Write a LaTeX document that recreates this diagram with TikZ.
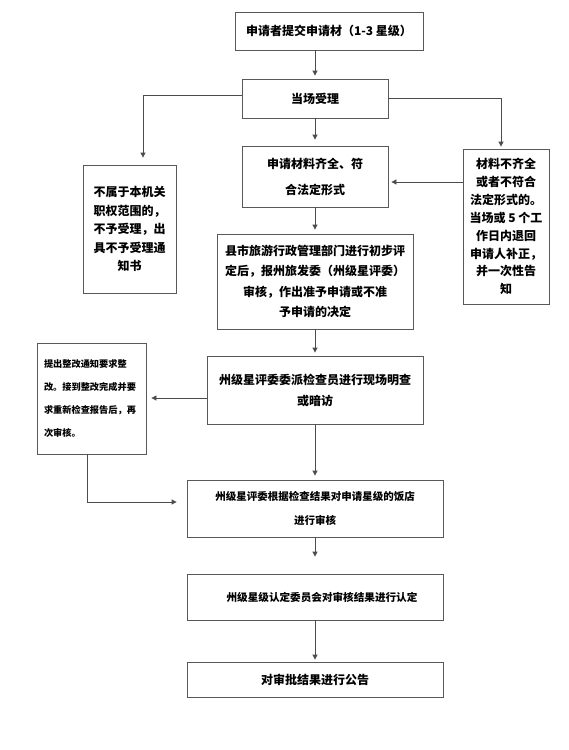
\documentclass[tikz,border=0pt]{standalone}
\usepackage{fontspec}
\setmainfont{Noto Sans CJK SC}
\usetikzlibrary{arrows.meta}
\begin{document}
\begin{tikzpicture}[x=1pt,y=-1pt,
  box/.style={draw=black!65, line width=0.8pt, inner sep=0pt, align=center, font=\bfseries\fontsize{12}{18}\selectfont},
  arr/.style={draw=black!70, line width=0.8pt, -{Triangle[length=5pt,width=5pt]}}]
\useasboundingbox[fill=white] (0,0) rectangle (568,750);
\node[box, minimum width=188pt, minimum height=38pt] (b1) at (329,31) {申请者提交申请材（1-3 星级）};
\node[box, minimum width=146pt, minimum height=39pt] (b2) at (315,98.5) {当场受理};
\node[box, minimum width=146pt, minimum height=61pt, font=\bfseries\fontsize{12}{26}\selectfont] (b3) at (315,176.5) {申请材料齐全、符\\合法定形式};
\node[box, minimum width=196pt, minimum height=95pt, font=\bfseries\fontsize{12}{20.5}\selectfont] (b4) at (315,281.5) {县市旅游行政管理部门进行初步评\\定后，报州旅发委（州级星评委）\\审核，作出准予申请或不准\\予申请的决定};
\node[box, minimum width=216pt, minimum height=68pt, font=\bfseries\fontsize{12}{21}\selectfont] (b5) at (315,390) {州级星评委委派检查员进行现场明查\\或暗访};
\node[box, minimum width=93pt, minimum height=128pt, font=\bfseries\fontsize{12}{18.5}\selectfont] (l1) at (129.5,229) {不属于本机关\\职权范围的，\\不予受理，出\\具不予受理通\\知书};
\node[box, minimum width=86pt, minimum height=155pt, font=\bfseries\fontsize{12}{17.9}\selectfont] (r1) at (506,226.5) {材料不齐全\\或者不符合\\法定形式的。\\当场或 5 个工\\作日内退回\\申请人补正，\\并一次性告\\知};
\node[box, minimum width=109pt, minimum height=111pt, align=left, text width=95pt, font=\bfseries\fontsize{9.2}{23}\selectfont] (l2) at (91.5,398.5) {提出整改通知要求整\\改。接到整改完成并要\\求重新检查报告后，再\\次审核。};
\node[box, minimum width=256pt, minimum height=57pt, font=\bfseries\fontsize{10.5}{24}\selectfont] (b6) at (315,508.5) {州级星评委根据检查结果对申请星级的饭店\\进行审核};
\node[box, minimum width=256pt, minimum height=46pt, font=\bfseries\fontsize{10.6}{14}\selectfont] (b7) at (315,597) {\hspace*{14pt}州级星级认定委员会对审核结果进行认定};
\node[box, minimum width=256pt, minimum height=35pt] (b8) at (315,679.5) {对审批结果进行公告};
\draw[arr, shorten >=3pt] (b1.south -| b2.north) -- (b2.north);
\draw[arr, shorten >=7pt] ([yshift=3.5pt]b2.west) -| ([xshift=13.5pt]l1.north);
\draw[arr, shorten >=2pt] (b2.east) -| ([xshift=-5pt]r1.north);
\draw[arr, shorten >=6pt] (b2.south) -- (b3.north);
\coordinate (rb) at ([yshift=-5.5pt]b3.east);
\draw[arr, shorten >=3pt] (r1.west |- rb) -- (rb);
\draw[arr, shorten >=4pt] (b3.south) -- (b4.north);
\draw[arr, shorten >=3pt] (b4.south) -- (b5.north);
\coordinate (lb) at ([yshift=-8pt]b5.west);
\draw[arr, shorten >=5pt] (lb) -- (l2.east |- lb);
\coordinate (lc) at ([xshift=-4.5pt]l2.south);
\coordinate (ld) at ([yshift=6.5pt]b6.west);
\draw[arr, shorten >=10pt] (lc) |- (ld);
\draw[arr, shorten >=4pt] (b5.south) -- (b6.north);
\draw[arr, shorten >=17pt] (b6.south) -- (b7.north);
\draw[arr, shorten >=2pt] (b7.south) -- (b8.north);
\end{tikzpicture}
\end{document}
